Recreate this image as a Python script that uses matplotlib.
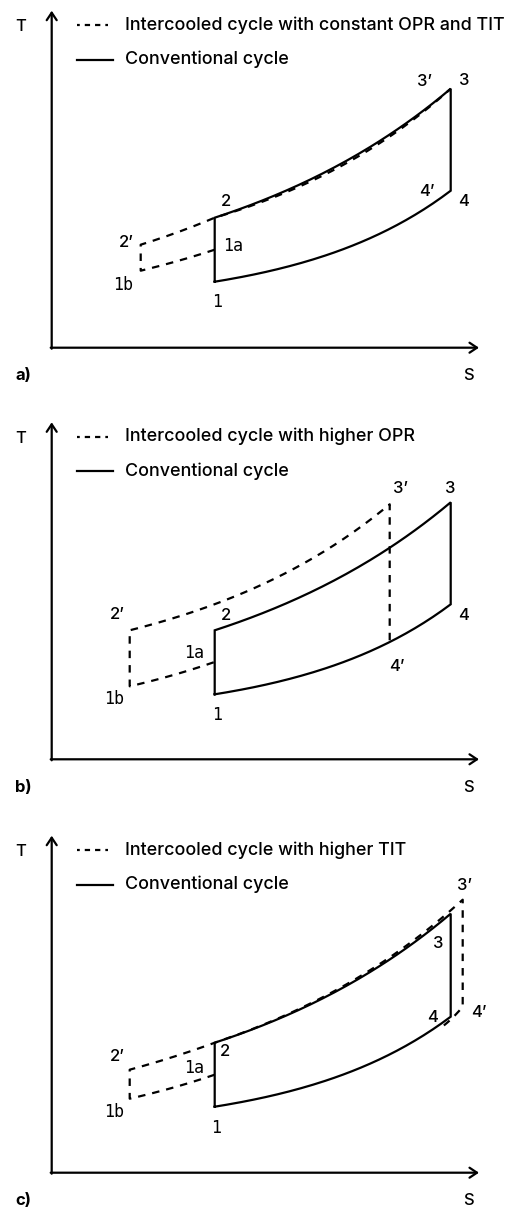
import numpy as np
import matplotlib
matplotlib.use("Agg")
import matplotlib.pyplot as plt

# state points (s, T) in arbitrary units
conv_a = {"1": (163, 66), "2": (163, 130), "3": (399, 259), "4": (399, 157)}
ic_a = {"1a": (163, 98), "1b": (89, 77), "2'": (89, 103), "3'": (399, 259), "4'": (399, 157)}

conv_b = {"1": (163, 65), "2": (163, 129), "3": (399, 257), "4": (399, 155)}
ic_b = {"1a": (162, 97), "1b": (78, 73), "2'": (78, 129), "3'": (338, 255), "4'": (338, 117)}

conv_c = {"1": (163, 66), "2": (163, 130), "3": (399, 259), "4": (399, 156)}
ic_c = {"1a": (163, 98), "1b": (78, 74), "2'": (78, 103), "3'": (411, 273), "4'": (411, 166)}
join_c = (388, 144)   # where the dashed 4'-line meets the conventional isobar

legend_ic = ["Intercooled cycle with constant OPR and TIT",
             "Intercooled cycle with higher OPR",
             "Intercooled cycle with higher TIT"]
legend_conv = "Conventional cycle"
panel_tags = ["a)", "b)", "c)"]

# label offsets in pixels (dx right, dy up) from each state point
off_a = {"1": (2, -20), "2": (11, 16), "3": (13, 8), "4": (13, -11),
         "1a": (18, 4), "1b": (-18, -14), "2'": (-14, 2), "3'": (-26, 7), "4'": (-24, -1)}
off_b = {"1": (2, -21), "2": (11, 15), "3": (-1, 14), "4": (13, -11),
         "1a": (-20, 9), "1b": (-16, -13), "2'": (-12, 16), "3'": (11, 16), "4'": (7, -24)}
off_c = {"1": (1, -21), "2": (10, -9), "3": (-13, -30), "4": (-18, -1),
         "1a": (-21, 7), "1b": (-16, -13), "2'": (-12, 13), "3'": (2, 14), "4'": (16, -6)}

K_HI = 0.95   # curvature of the high pressure isobar
K_LO = 1.55   # curvature of the low pressure isobar

LW = 1.6
DASH = (5.4, 5.0)          # points, for the cycle lines
LEG_DASH = (1.8, (3.8, 3.6))  # offset + pattern for the legend sample
SANS = "Inter"
MONO = "DejaVu Sans Mono"
FS = 12.9      # legend text
FS_LAB = 12    # state labels, T, S

plt.rcParams["lines.scale_dashes"] = False


def isobar(p0, p1, k, n=80):
    u = np.linspace(0, 1, n)
    f = (np.exp(k * u) - 1) / (np.exp(k) - 1) if abs(k) > 1e-6 else u
    s = p0[0] + (p1[0] - p0[0]) * u
    T = p0[1] + (p1[1] - p0[1]) * f
    return s, T


def chain(*segs):
    s = np.concatenate([a for a, b in segs])
    T = np.concatenate([b for a, b in segs])
    return s, T


def vline(p0, p1):
    return np.array([p0[0], p1[0]]), np.array([p0[1], p1[1]])


def rev(seg):
    return seg[0][::-1], seg[1][::-1]


def conventional(ax, c):
    s, T = chain(vline(c["1"], c["2"]), isobar(c["2"], c["3"], K_HI),
                 vline(c["3"], c["4"]), rev(isobar(c["1"], c["4"], K_LO)))
    ax.plot(s, T, color="black", lw=LW, solid_joinstyle="miter")


def dashed(ax, s, T):
    ax.plot(s, T, color="black", lw=LW, linestyle=(0, DASH))


def labels(ax, pts, off):
    for name, (dx, dy) in off.items():
        fam = MONO if name.startswith("1") else SANS
        txt = name.replace("'", "\u2019")
        ax.annotate(txt, xy=pts[name], xytext=(dx * 0.72, dy * 0.72),
                    textcoords="offset points", ha="center", va="center",
                    fontsize=FS_LAB, family=fam, fontweight=500,
                    annotation_clip=False)


fig = plt.figure(figsize=(5.18, 12.07), dpi=100)
origins = [347.7, 759.3, 1172.7]
axes = []
for oy in origins:
    ax = fig.add_axes([51.7 / 518, (1207 - oy) / 1207, 466.3 / 518, 340 / 1207])
    ax.set_xlim(0, 466.3)
    ax.set_ylim(0, 340)
    ax.axis("off")
    axes.append(ax)

for i, ax in enumerate(axes):
    # T-s axes with open arrow heads
    ax.annotate("", xy=(0, 337), xytext=(0, -1),
                arrowprops=dict(arrowstyle="->,head_length=0.45,head_width=0.3",
                                lw=LW, color="black", shrinkA=0, shrinkB=0,
                                mutation_scale=12), annotation_clip=False)
    ax.annotate("", xy=(427.3, 0), xytext=(-1, 0),
                arrowprops=dict(arrowstyle="->,head_length=0.45,head_width=0.3",
                                lw=LW, color="black", shrinkA=0, shrinkB=0,
                                mutation_scale=12), annotation_clip=False)
    ax.text(-31, 321, "T", ha="center", va="center", fontsize=FS_LAB,
            family=SANS, fontweight=500)
    ax.text(416.6, -28, "S", ha="center", va="center", fontsize=FS_LAB,
            family=SANS, fontweight=500)
    ax.text(-28.4, -28, panel_tags[i], ha="center", va="center", fontsize=FS_LAB,
            family=SANS, fontweight="bold")

    # legend
    ax.plot([25.0, 56.6], [322.7, 322.7], color="black", lw=LW, linestyle=LEG_DASH)
    ax.plot([25.0, 61.0], [288.0, 288.0], color="black", lw=LW)
    ax.text(73.3, 322.7, legend_ic[i], ha="left", va="center", fontsize=FS,
            family=SANS, fontweight=500)
    ax.text(73.3, 288.0, legend_conv, ha="left", va="center", fontsize=FS,
            family=SANS, fontweight=500)

# a) constant OPR and TIT
ax = axes[0]
conventional(ax, conv_a)
s, T = chain(rev(isobar(ic_a["1b"], ic_a["1a"], 0.3)), vline(ic_a["1b"], ic_a["2'"]),
             isobar(ic_a["2'"], conv_a["2"], 0.3), isobar(conv_a["2"], ic_a["3'"], 1.1))
dashed(ax, s, T)
labels(ax, {**conv_a, **ic_a}, off_a)

# b) higher OPR
ax = axes[1]
conventional(ax, conv_b)
s, T = chain(rev(isobar(ic_b["1b"], ic_b["1a"], 0.4)), vline(ic_b["1b"], ic_b["2'"]),
             isobar(ic_b["2'"], ic_b["3'"], 1.2), vline(ic_b["3'"], ic_b["4'"]))
dashed(ax, s, T)
labels(ax, {**conv_b, **ic_b}, off_b)

# c) higher TIT
ax = axes[2]
conventional(ax, conv_c)
s, T = chain(rev(isobar(ic_c["1b"], ic_c["1a"], 0.4)), vline(ic_c["1b"], ic_c["2'"]),
             isobar(ic_c["2'"], conv_c["2"], 0.3), isobar(conv_c["2"], ic_c["3'"], 1.0),
             vline(ic_c["3'"], ic_c["4'"]), rev(isobar(join_c, ic_c["4'"], 0.5)))
dashed(ax, s, T)
labels(ax, {**conv_c, **ic_c}, off_c)

fig.savefig("out.png", dpi=100)
